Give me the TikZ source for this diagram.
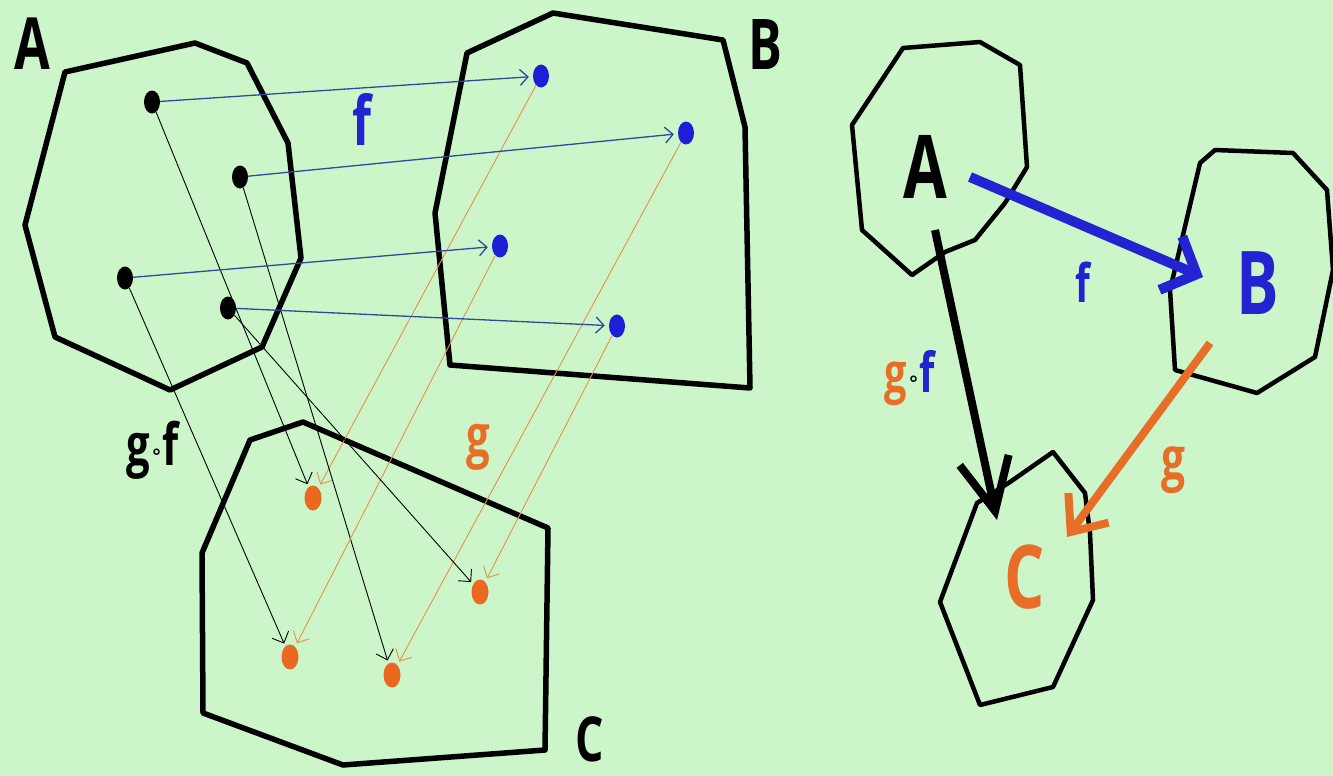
\documentclass[tikz,border=0pt]{standalone}
\usepackage{fontspec}
\setmainfont{Open Sans}
\newfontfamily\lblfont[FakeStretch=0.72]{Open Sans}
\newfontfamily\symfont{DejaVu Sans}
\usetikzlibrary{shapes.geometric, arrows.meta}
\definecolor{bg}{RGB}{204,246,202}
\definecolor{dotblue}{RGB}{30,30,215}
\definecolor{lineblue}{RGB}{45,75,155}
\definecolor{dotorange}{RGB}{235,105,30}
\definecolor{lineorange}{RGB}{228,145,75}
\definecolor{txtorange}{RGB}{232,110,40}
\definecolor{txtblue}{RGB}{35,35,210}
\newcommand{\lbl}[1]{\lblfont\bfseries\fontsize{#1}{#1}\selectfont}
\newcommand{\compo}[1]{\raisebox{#1}{\symfont\fontsize{20}{20}\selectfont ∘}}

\begin{document}
\begin{tikzpicture}[x=1pt, y=-1pt, every node/.style={inner sep=0pt},
  pt/.style={ellipse, minimum width=16pt, minimum height=23pt, fill=black},
  ptB/.style={pt, fill=dotblue},
  ptC/.style={pt, fill=dotorange, minimum width=17pt, minimum height=25pt},
  setline/.style={line width=5.5pt, line join=round},
  setsmall/.style={line width=4.5pt, line join=round},
  farrow/.style={lineblue, line width=1.3pt, shorten >=4pt, -{Straight Barb[length=8pt, width=16pt]}},
  garrow/.style={lineorange, line width=0.9pt, shorten >=4pt, -{Straight Barb[length=9pt, width=18pt]}},
  gfarrow/.style={black, line width=0.9pt, shorten >=3pt, -{Straight Barb[length=9pt, width=18pt]}}]
  \fill[bg] (0,0) rectangle (1333,776);
  \useasboundingbox (0,0) rectangle (1333,776);

  % left: the three sets
  \draw[setline] (65,72) -- (195,43) -- (247,63) -- (288,143) -- (301,258) -- (262,347) -- (170,390) -- (55,337) -- (25,225) -- cycle;
  \draw[setline] (467,53) -- (553,13) -- (723,40) -- (745,127) -- (750,388) -- (450,365) -- (435,213) -- cycle;
  \draw[setline] (250,440) -- (303,422) -- (548,528) -- (545,750) -- (343,765) -- (203,713) -- (202,553) -- cycle;

  \node[font=\lbl{72}] (labA) at (32,44) {A};
  \node[font=\lbl{70}] (labB) at (765,45) {B};
  \node[font=\lbl{62}] (labC) at (590,739) {C};
  \node[font=\lbl{68}, text=txtblue] (labf) at (362,119) {f};
  \node[font=\lbl{58}, text=txtorange] (labg) at (478,447) {g};
  \node[font=\lbl{58}] (labgf) at (153,450) {g\compo{7pt}f};

  % elements
  \node[pt] (a1) at (152,102) {};
  \node[pt] (a2) at (240,177) {};
  \node[pt] (a3) at (125,278) {};
  \node[pt] (a4) at (228,308) {};
  \node[ptB] (b1) at (541,76) {};
  \node[ptB] (b2) at (686,133) {};
  \node[ptB] (b3) at (500,246) {};
  \node[ptB] (b4) at (617,326) {};
  \node[ptC] (c1) at (313,498) {};
  \node[ptC] (c2) at (392,675) {};
  \node[ptC] (c3) at (290,657) {};
  \node[ptC] (c4) at (480,592) {};

  \foreach \i in {1,...,4} {
    \draw[gfarrow] (a\i) -- (c\i);
    \draw[farrow] (a\i) -- (b\i);
    \draw[garrow] (b\i) -- (c\i);
  }

  % right: the short form
  \draw[setsmall] (903,48) -- (980,42) -- (1020,65) -- (1027,167) -- (1005,203) -- (975,240) -- (945,252) -- (912,275) -- (862,230) -- (852,125) -- cycle;
  \draw[setsmall] (1215,150) -- (1293,153) -- (1327,190) -- (1333,270) -- (1315,357) -- (1257,393) -- (1175,370) -- (1170,290) -- (1200,163) -- cycle;
  \draw[setsmall] (977,503) -- (1010,482) -- (1053,452) -- (1085,493) -- (1090,533) -- (1093,600) -- (1053,687) -- (980,705) -- (940,602) -- cycle;

  \node[font=\lbl{88}] (rA) at (925,167) {A};
  \node[font=\lbl{88}, text=txtblue] (rB) at (1258,283) {B};
  \node[font=\lbl{88}, text=txtorange] (rC) at (1025,577) {C};
  \node[font=\lbl{53}, text=txtblue] (rf) at (1083,282) {f};
  \node[font=\lbl{59}, text=txtorange] (rg) at (1173,470) {g};
  \node[font=\lbl{55}] (rgf) at (910,378) {\textcolor{txtorange}{g}\compo{7pt}\textcolor{txtblue}{f}};

  \coordinate (fTail) at (970,177);
  \coordinate (fHead) at (1203,277);
  \coordinate (gfTail) at (935,230);
  \coordinate (gfHead) at (997,520);
  \coordinate (gTail) at (1210,343);
  \coordinate (gHead) at (1067,537);
  \draw[txtblue, line width=10pt, -{Straight Barb[length=28pt, width=58pt]}] (fTail) -- (fHead);
  \draw[black, line width=8pt, -{Straight Barb[length=52pt, width=50pt]}] (gfTail) -- (gfHead);
  \draw[txtorange, line width=8pt, -{Straight Barb[length=30pt, width=50pt]}] (gTail) -- (gHead);
\end{tikzpicture}
\end{document}
